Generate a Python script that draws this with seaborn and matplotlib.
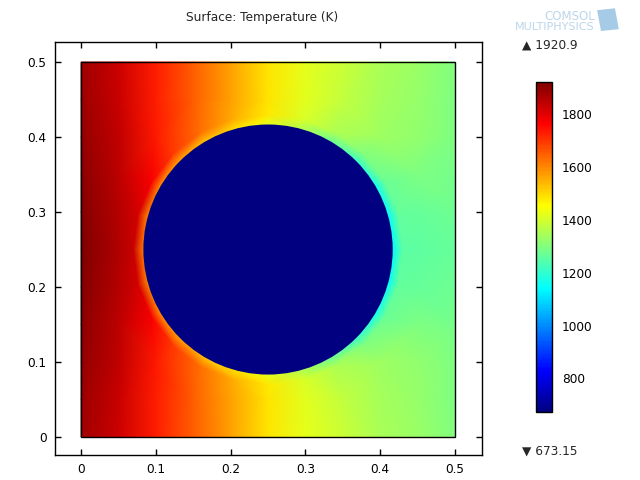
import numpy as np
import matplotlib
matplotlib.use("Agg")
import matplotlib.pyplot as plt
import matplotlib.tri as mtri
from matplotlib.patches import Circle, Rectangle
from matplotlib.colors import Normalize, LinearSegmentedColormap
from matplotlib.ticker import FuncFormatter
import seaborn as sns

# estilo
sns.set_theme(style="ticks")
plt.rcParams['font.family'] = ['DejaVu Sans']
plt.rcParams['axes.edgecolor'] = 'black'
plt.rcParams['xtick.color'] = 'black'
plt.rcParams['ytick.color'] = 'black'

# geometria (m)
x_nodes = [0.0, 0.05, 0.1, 0.15, 0.2, 0.25, 0.3, 0.35, 0.4, 0.45, 0.5]
y_nodes = [0.0, 0.05, 0.1, 0.15, 0.2, 0.25, 0.3, 0.35, 0.4, 0.45, 0.5]
domain_size = 0.5
hole_center = (0.25, 0.25)
hole_radius = 0.1667
ring_width = 0.013

# rango de la escala
t_min = 673.15
t_max = 1920.9
hole_temp = 673.15

# temperatura (K) leida en la malla gruesa, filas de y=0 a y=0.5
# nan = punto tapado por el agujero
nan = np.nan
temp_y000 = [1880, 1827, 1726, 1648, 1569, 1487, 1422, 1385, 1347, 1328, 1301]
temp_y005 = [1886, 1831, 1727, 1648, 1567, 1484, 1417, 1379, 1343, 1323, 1297]
temp_y010 = [1892, 1839, 1731, nan, nan, nan, nan, nan, 1335, 1317, 1293]
temp_y015 = [1903, 1847, nan, nan, nan, nan, nan, nan, nan, 1294, 1285]
temp_y020 = [1913, 1856, nan, nan, nan, nan, nan, nan, nan, 1266, 1273]
temp_y025 = [1920, 1861, nan, nan, nan, nan, nan, nan, nan, 1257, 1267]
temp_y030 = [1913, 1856, nan, nan, nan, nan, nan, nan, nan, 1266, 1273]
temp_y035 = [1903, 1847, nan, nan, nan, nan, nan, nan, nan, 1294, 1285]
temp_y040 = [1892, 1839, 1731, nan, nan, nan, nan, nan, 1335, 1317, 1293]
temp_y045 = [1886, 1831, 1727, 1648, 1567, 1484, 1417, 1379, 1343, 1323, 1297]
temp_y050 = [1880, 1827, 1726, 1648, 1569, 1487, 1422, 1385, 1347, 1328, 1301]

# capa limite alrededor del agujero (angulo en grados desde +x)
ring_angles = [0, 15, 30, 45, 60, 75, 90, 105, 120, 135, 150, 165,
               180, 195, 210, 225, 240, 255, 270, 285, 300, 315, 330, 345]
ring_inner = [1135, 1140, 1160, 1205, 1270, 1359, 1423, 1488, 1525, 1562, 1586, 1601,
              1609, 1601, 1586, 1562, 1525, 1488, 1423, 1359, 1270, 1205, 1160, 1140]
ring_outer = [1258, 1260, 1272, 1298, 1351, 1407, 1479, 1553, 1627, 1692, 1772, 1815,
              1829, 1815, 1772, 1692, 1627, 1553, 1479, 1407, 1351, 1298, 1272, 1260]

colorbar_ticks = [800, 1000, 1200, 1400, 1600, 1800]

# paleta tipo "rainbow" de COMSOL
rainbow_colors = ['#000080', '#0000ff', '#00ffff', '#80ff80', '#ffff00', '#ff0000', '#800000']
rainbow_stops = [0.0, 0.125, 0.375, 0.5, 0.625, 0.875, 1.0]

# armar puntos
temp_grid = np.array([temp_y000, temp_y005, temp_y010, temp_y015, temp_y020, temp_y025,
                      temp_y030, temp_y035, temp_y040, temp_y045, temp_y050], dtype=float)
gx, gy = np.meshgrid(x_nodes, y_nodes)
ok = ~np.isnan(temp_grid)
px = list(gx[ok])
py = list(gy[ok])
pv = list(temp_grid[ok])

ang = np.radians(ring_angles)
for r, vals in [(hole_radius, ring_inner), (hole_radius + ring_width, ring_outer)]:
    px += list(hole_center[0] + r * np.cos(ang))
    py += list(hole_center[1] + r * np.sin(ang))
    pv += list(vals)

tri = mtri.Triangulation(px, py)
cmap = LinearSegmentedColormap.from_list('comsol_rainbow', list(zip(rainbow_stops, rainbow_colors)))
norm = Normalize(vmin=t_min, vmax=t_max)

fig = plt.figure(figsize=(6.4, 4.8), dpi=100)
ax = fig.add_axes([0.086, 0.052, 0.667, 0.8605])

mesh = ax.tripcolor(tri, pv, shading='gouraud', cmap=cmap, norm=norm)
ax.add_patch(Circle(hole_center, hole_radius, facecolor=cmap(norm(hole_temp)),
                    edgecolor='none', zorder=3))
ax.add_patch(Rectangle((0, 0), domain_size, domain_size, fill=False,
                       edgecolor='black', lw=1, zorder=4))

ax.set_xlim(-0.0348, 0.536)
ax.set_ylim(-0.024, 0.5267)
ax.set_xticks([0, 0.1, 0.2, 0.3, 0.4, 0.5])
ax.set_yticks([0, 0.1, 0.2, 0.3, 0.4, 0.5])
fmt = FuncFormatter(lambda v, p: f"{v:g}")
ax.xaxis.set_major_formatter(fmt)
ax.yaxis.set_major_formatter(fmt)
ax.tick_params(direction='in', top=True, right=True, length=4, width=1,
               labelsize=8.7, pad=6)
for s in ax.spines.values():
    s.set_linewidth(1)
    s.set_color('black')

fig.text(262 / 640, 1 - 18 / 480, "Surface: Temperature (K)", ha='center',
         va='center', fontsize=8.7)

# barra de color
cax = fig.add_axes([536 / 640, 68 / 480, 16 / 640, 330 / 480])
cb = fig.colorbar(mesh, cax=cax)
cb.set_ticks(colorbar_ticks)
cb.outline.set_linewidth(1)
cb.outline.set_edgecolor('black')
cax.yaxis.set_ticks_position('both')
cax.yaxis.set_label_position('right')
cax.tick_params(direction='in', length=3, width=1, labelsize=8.7, pad=7,
                labelleft=False, labelright=True)

fig.text(522 / 640, 1 - 45 / 480, "\u25b2 " + f"{t_max:g}", ha='left', va='center', fontsize=8.7)
fig.text(522 / 640, 1 - 451 / 480, "\u25bc " + f"{t_min:g}", ha='left', va='center', fontsize=8.7)

# logo
logo_col = '#bcd6ea'
fig.text(595 / 640, 1 - 17 / 480, "COMSOL", ha='right', va='center', fontsize=8.5, color=logo_col)
fig.text(595 / 640, 1 - 27 / 480, "MULTIPHYSICS", ha='right', va='center', fontsize=8, color=logo_col)
fig.patches.append(Rectangle((601 / 640, 1 - 31 / 480), 18 / 640, 21 / 480,
                             transform=fig.transFigure, facecolor='#a6cbe6',
                             edgecolor='none', angle=8))

plt.savefig('out.png', dpi=100)
plt.close()
